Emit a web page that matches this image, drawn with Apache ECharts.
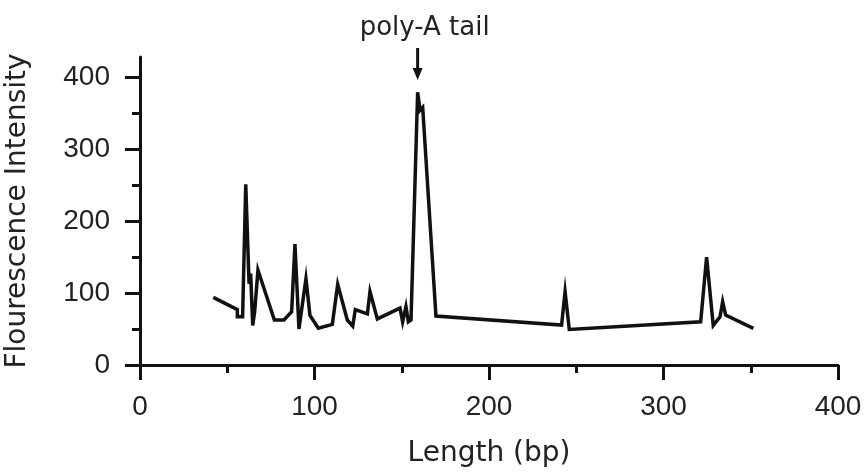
<!DOCTYPE html>
<html>
<head>
<meta charset="utf-8">
<script src="https://cdn.jsdelivr.net/npm/echarts@6/dist/echarts.min.js"></script>
<style>
  html, body { margin: 0; padding: 0; background: #fff; }
  #main { width: 864px; height: 472px; }
</style>
</head>
<body>
<div id="main"></div>
<script>
// fragment length (bp) and fluorescence
var lengths = [42, 55.8, 55.8, 58.8, 60.6, 62.5, 63.4, 64.6, 65.7, 67.6, 77, 82.5, 86.9, 88.8, 91.1,
    95.1, 97.4, 102.2, 110.2, 113.3, 118.8, 121.9, 123.4, 130.3, 131.8, 136, 149, 150.5, 152.4,
    153.8, 155.3, 159.1, 160.5, 162, 169.6, 241.6, 243.6, 246, 321.3, 324.7, 328.5, 332.4, 333.9,
    335.6, 351.5];
var intensity = [94, 77, 67, 67, 251, 113, 127, 55, 74, 132, 62.5, 62.5, 74, 168, 50,
    120, 69, 51, 56.5, 112, 62.5, 54, 77, 71, 102, 64, 79, 60, 81,
    60, 62.5, 379, 354, 358, 68, 55.5, 102, 49.5, 60, 150, 55, 67, 88,
    69.5, 51];

var xMajor = [0, 100, 200, 300, 400];
var yMajor = [0, 100, 200, 300, 400];
var yMinor = [50, 150, 250, 350];

// where the poly-A arrow points
var polyA = [159.1, 396];

var points = [];
for (var i = 0; i < lengths.length; i++) {
    points.push([lengths[i], intensity[i]]);
}

var ink = '#111';
var tickFont = 'Liberation Sans, Arial, sans-serif';
var nameFont = 'DejaVu Sans, sans-serif';

var myChart = echarts.init(document.getElementById('main'));

var option = {
    animation: false,
    backgroundColor: '#fff',
    grid: {
        left: 140,
        right: 26,
        top: 57,
        bottom: 107,
        containLabel: false,
        outerBoundsMode: 'none'
    },
    xAxis: {
        type: 'value',
        min: 0,
        max: 400,
        interval: 100,
        name: 'Length (bp)',
        nameLocation: 'middle',
        nameGap: 75,
        nameTextStyle: { fontFamily: nameFont, fontSize: 28, color: '#222' },
        axisLine: { lineStyle: { color: ink, width: 3 } },
        axisTick: { length: 15, lineStyle: { color: ink, width: 3 } },
        minorTick: { show: true, splitNumber: 2, length: 8, lineStyle: { color: ink, width: 3 } },
        axisLabel: { margin: 28, fontFamily: tickFont, fontSize: 28, color: '#222' },
        splitLine: { show: false }
    },
    yAxis: [
        {
            type: 'value',
            min: 0,
            max: 428,
            name: 'Flourescence Intensity',
            nameLocation: 'middle',
            nameGap: 108,
            nameTextStyle: { fontFamily: nameFont, fontSize: 28, color: '#222' },
            axisLine: { show: true, lineStyle: { color: ink, width: 3 } },
            axisTick: { show: true, length: 15, customValues: yMajor, lineStyle: { color: ink, width: 3 } },
            axisLabel: { margin: 30, customValues: yMajor, fontFamily: tickFont, fontSize: 28, color: '#222' },
            splitLine: { show: false }
        },
        {
            type: 'value',
            position: 'left',
            min: 0,
            max: 428,
            axisLine: { show: false },
            axisTick: { show: true, length: 8, customValues: yMinor, lineStyle: { color: ink, width: 3 } },
            axisLabel: { show: false },
            splitLine: { show: false }
        }
    ],
    series: [
        {
            type: 'line',
            data: points,
            showSymbol: false,
            lineStyle: { color: ink, width: 3.5, join: 'miter' }
        }
    ]
};

myChart.setOption(option);

// arrow and label for the poly-A peak
var tip = myChart.convertToPixel({ xAxisIndex: 0, yAxisIndex: 0 }, polyA);
myChart.setOption({
    graphic: [
        {
            type: 'line',
            shape: { x1: tip[0], y1: tip[1] - 32, x2: tip[0], y2: tip[1] - 10 },
            style: { stroke: ink, lineWidth: 3 }
        },
        {
            type: 'polygon',
            shape: { points: [[tip[0] - 5, tip[1] - 12], [tip[0] + 5, tip[1] - 12], [tip[0], tip[1]]] },
            style: { fill: ink }
        },
        {
            type: 'text',
            x: tip[0] + 7,
            y: tip[1] - 52,
            style: {
                text: 'poly-A tail',
                fontFamily: nameFont,
                fontSize: 26,
                fill: '#222',
                align: 'center',
                verticalAlign: 'middle'
            }
        }
    ]
});
</script>
</body>
</html>
